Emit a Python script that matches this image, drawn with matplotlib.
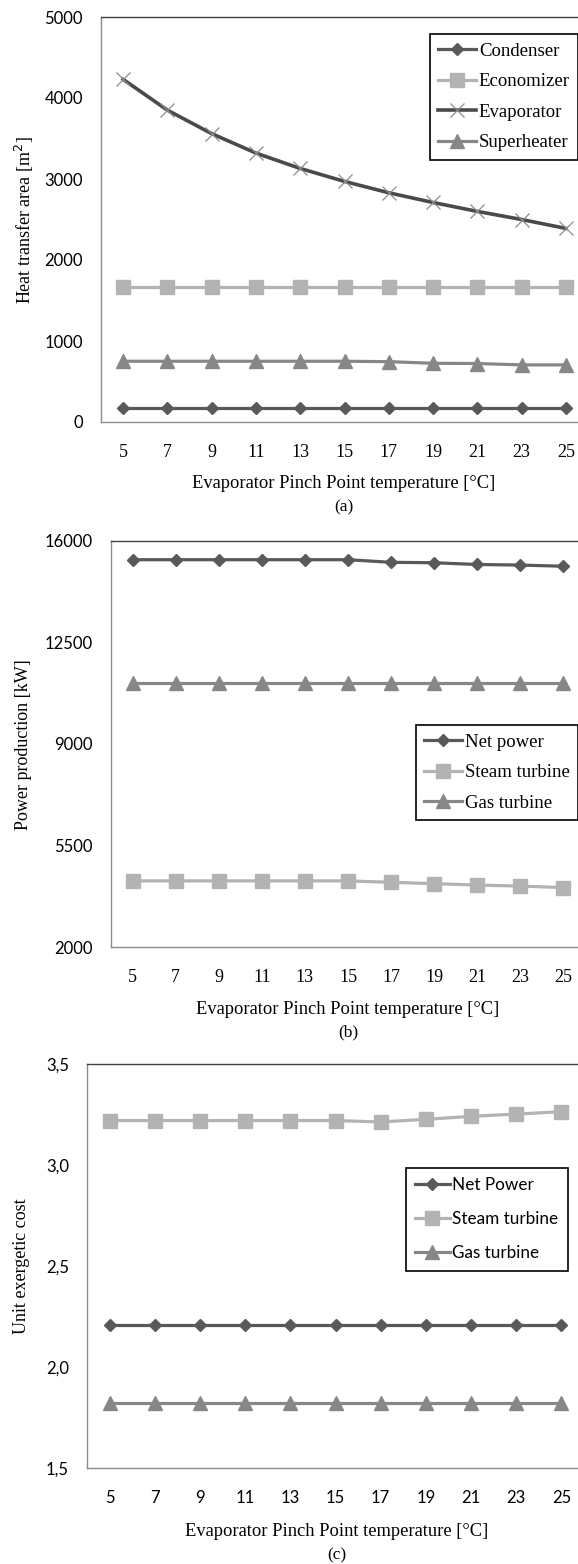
import numpy as np
import matplotlib.pyplot as plt

# Evaporator pinch point temperature [°C]
pinch = [5, 7, 9, 11, 13, 15, 17, 19, 21, 23, 25]

# (a) heat transfer area [m2]
condenser = [175, 175, 175, 175, 175, 175, 175, 175, 175, 175, 175]
economizer = [1667, 1667, 1667, 1667, 1667, 1667, 1667, 1667, 1667, 1667, 1667]
evaporator = [4230, 3850, 3560, 3320, 3130, 2970, 2830, 2710, 2600, 2500, 2390]
superheater = [750, 750, 750, 750, 750, 750, 745, 725, 722, 705, 705]

# (b) power production [kW]
net_power = [15355, 15355, 15355, 15355, 15355, 15355, 15265, 15250, 15190, 15170, 15130]
steam_power = [4280, 4280, 4280, 4280, 4280, 4280, 4230, 4185, 4135, 4100, 4050]
gas_power = [11110, 11110, 11110, 11110, 11110, 11110, 11110, 11110, 11110, 11110, 11110]

# (c) unit exergetic cost
net_cost = [2.21, 2.21, 2.21, 2.21, 2.21, 2.21, 2.21, 2.21, 2.21, 2.21, 2.21]
steam_cost = [3.22, 3.22, 3.22, 3.22, 3.22, 3.22, 3.213, 3.226, 3.241, 3.252, 3.264]
gas_cost = [1.82, 1.82, 1.82, 1.82, 1.82, 1.82, 1.82, 1.82, 1.82, 1.82, 1.82]

W, H = 578, 1564
DARK = '#595959'
LIGHT = '#b3b3b3'
MID = '#878787'
SERIF = 'Liberation Serif'
SANS = 'Lato'

fig = plt.figure(figsize=(W / 100, H / 100), dpi=100)


def add_ax(l, t, r, b):
    return fig.add_axes([l / W, 1 - b / H, (r - l) / W, (b - t) / H])


def ftext(x, y, s, **kw):
    fig.text(x / W, 1 - y / H, s, ha='center', va='center', **kw)


def style(ax, yticks, ylabels, xfont):
    ax.set_xlim(4, 26)
    ax.set_xticks(pinch)
    ax.set_xticklabels([str(p) for p in pinch], family=xfont, size=13 if xfont == SERIF else 12)
    ax.set_ylim(yticks[0], yticks[-1])
    ax.set_yticks(yticks)
    ax.set_yticklabels(ylabels, family=SANS, size=12)
    ax.tick_params(length=0)
    ax.tick_params(axis='x', pad=16)
    ax.tick_params(axis='y', pad=13)
    for s in ['left', 'bottom']:
        ax.spines[s].set_color('#8c8c8c')
    for s in ['top', 'right']:
        ax.spines[s].set_color('#404040')
    for s in ax.spines.values():
        s.set_linewidth(1.0)


def leg(ax, x, y, font, spacing, pad):
    lg = ax.legend(loc='upper left', bbox_to_anchor=(x / W, 1 - y / H),
                   bbox_transform=fig.transFigure, frameon=True, fancybox=False,
                   edgecolor='black', framealpha=1, borderaxespad=0,
                   handlelength=2.0, handletextpad=0.15, borderpad=pad,
                   labelspacing=spacing, prop={'family': font, 'size': 13.5 if font == SERIF else 12.3})
    lg.get_frame().set_linewidth(1.2)


# ---- (a)
ax = add_ax(101, 17, 588, 422)
ax.plot(pinch, condenser, color=DARK, lw=2.3, marker='D', ms=6.5, label='Condenser')
ax.plot(pinch, economizer, color=LIGHT, lw=2.3, marker='s', ms=9.5, label='Economizer')
ax.plot(pinch, evaporator, color='#4a4a4a', lw=2.6, marker='x', ms=10, mew=0.9,
        mec='#8c8c8c', label='Evaporator')
ax.plot(pinch, superheater, color=MID, lw=2.3, marker='^', ms=9.5, label='Superheater')
style(ax, [0, 1000, 2000, 3000, 4000, 5000], ['0', '1000', '2000', '3000', '4000', '5000'], SERIF)
leg(ax, 430, 34, SERIF, 0.72, 0.45)
ftext(24, 220, 'Heat transfer area [m$^2$]', rotation=90, family=SERIF, size=13)
ftext(344, 484, 'Evaporator Pinch Point temperature [°C]', family=SERIF, size=13.3)
ftext(344, 507, '(a)', family=SERIF, size=12.5)

# ---- (b)
ax = add_ax(111, 541, 585, 947)
ax.plot(pinch, net_power, color=DARK, lw=2.3, marker='D', ms=6.5, label='Net power')
ax.plot(pinch, steam_power, color=LIGHT, lw=2.3, marker='s', ms=9.5, label='Steam turbine')
ax.plot(pinch, gas_power, color=MID, lw=2.3, marker='^', ms=9.5, label='Gas turbine')
style(ax, [2000, 5500, 9000, 12500, 16000], ['2000', '5500', '9000', '12500', '16000'], SERIF)
leg(ax, 416, 725, SERIF, 0.72, 0.45)
ftext(24, 745, 'Power production [kW]', rotation=90, family=SERIF, size=13)
ftext(348, 1010, 'Evaporator Pinch Point temperature [°C]', family=SERIF, size=13.3)
ftext(348, 1032, '(b)', family=SERIF, size=12.5)

# ---- (c)
ax = add_ax(87, 1064, 584, 1468)
ax.plot(pinch, net_cost, color=DARK, lw=2.3, marker='D', ms=6.5, label='Net Power')
ax.plot(pinch, steam_cost, color=LIGHT, lw=2.3, marker='s', ms=9.5, label='Steam turbine')
ax.plot(pinch, gas_cost, color=MID, lw=2.3, marker='^', ms=9.5, label='Gas turbine')
cticks = [1.5, 2.0, 2.5, 3.0, 3.5]
style(ax, cticks, [f'{v:.1f}'.replace('.', ',') for v in cticks], SANS)
leg(ax, 406, 1168, SANS, 1.05, 0.55)
ftext(22, 1266, 'Unit exergetic cost', rotation=90, family=SERIF, size=13)
ftext(337, 1532, 'Evaporator Pinch Point temperature [°C]', family=SERIF, size=13.3)
ftext(337, 1555, '(c)', family=SERIF, size=12.5)

fig.savefig('out.png', dpi=100)
